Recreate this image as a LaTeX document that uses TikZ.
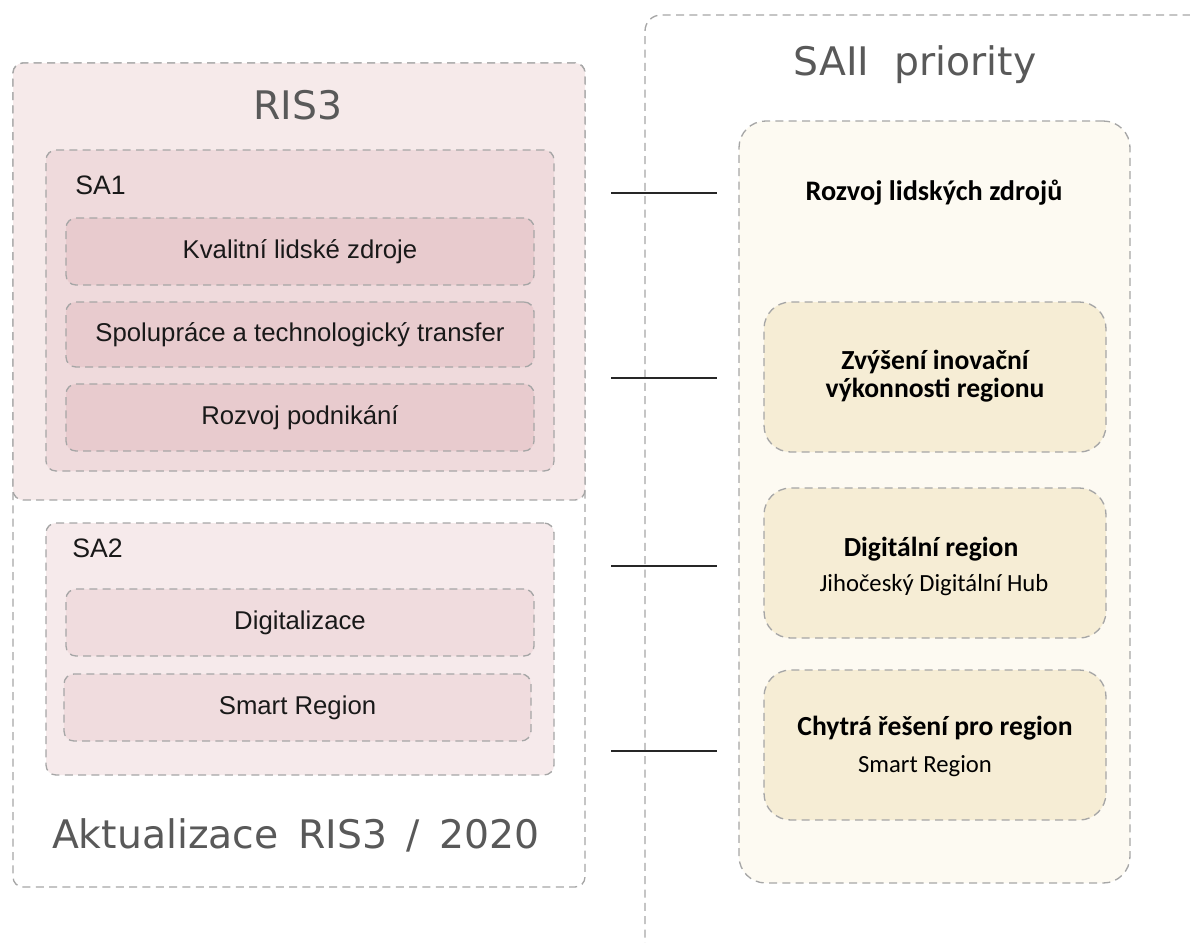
\documentclass[tikz,border=0pt]{standalone}
\usepackage{fontspec}
\setmainfont{Liberation Sans}
\newfontfamily\titlefont{DejaVu Sans}
\newfontfamily\calfont{Carlito}
\usetikzlibrary{fit}

\definecolor{dashgray}{HTML}{A6A6A6}
\definecolor{titlegray}{HTML}{595959}
\definecolor{risfill}{HTML}{F6EAEA}
\definecolor{saonefill}{HTML}{EFDADC}
\definecolor{saoneitem}{HTML}{E8CBCE}
\definecolor{satwofill}{HTML}{F6EAEB}
\definecolor{satwoitem}{HTML}{F0DCDE}
\definecolor{creamouter}{HTML}{FDFAF2}
\definecolor{creaminner}{HTML}{F6EDD5}

\newcommand\wsp{\hspace{0.5em}}

\tikzset{
  dashbox/.style={draw=dashgray, line width=1pt, dash pattern=on 6pt off 4pt},
  frame/.style={dashbox, inner sep=0pt, rounded corners=7.5pt},
  itemtext/.style={font=\fontsize{19.3}{23}\selectfont, text=black!90, inner sep=0pt},
  prio/.style={dashbox, inner sep=0pt, rounded corners=20pt, fill=creaminner},
  priohead/.style={font=\calfont\bfseries\fontsize{20.7}{24}\selectfont, text=black, inner sep=0pt},
  priosub/.style={font=\calfont\fontsize{18.5}{22}\selectfont, text=black, inner sep=0pt},
  sectitle/.style={font=\titlefont\fontsize{29.5}{34}\selectfont, text=titlegray, inner sep=0pt},
  salabel/.style={font=\fontsize{20}{24}\selectfont, anchor=west, inner sep=0pt, text=black!90},
  link/.style={draw=black!85, line width=1.1pt},
}

\begin{document}
\begin{tikzpicture}[x=0.75pt,y=-0.75pt]
\useasboundingbox (0,0) rectangle (1190,943);

% right frame: runs off the right and bottom edges
\begin{scope}
  \clip (0,0) rectangle (1190,943);
  \node[frame, rounded corners=12pt, fit={(645,15)(1260,960)}] (saiiframe) {};
\end{scope}
\node[sectitle] (saiititle) at (915,65) {SAII\ \ priority};

% left frame with the RIS3 block on top
\node[frame, fill=white, fit={(13,63)(585,887)}] (updframe) {};
\node[frame, fill=risfill, fit={(13,63)(585,500)}] (risframe) {};
\node[sectitle] (ristitle) at (298,105) {RIS3};

\node[frame, fill=saonefill, fit={(46,150)(554,471)}] (saone) {};
\node[salabel] (saonelabel) at (75,185) {SA1};
\node[frame, fill=saoneitem, fit={(66,218)(534,285)}] (kval) {};
\node[frame, fill=saoneitem, fit={(66,302)(534,367)}] (spol) {};
\node[frame, fill=saoneitem, fit={(66,384)(534,451)}] (podn) {};
\node[itemtext] (kvaltext) at (kval.center) {Kvalitní lidské zdroje};
\node[itemtext] (spoltext) at (spol.center) {Spolupráce a technologický transfer};
\node[itemtext] (podntext) at (podn.center) {Rozvoj podnikání};

\node[frame, fill=satwofill, fit={(46,523)(554,775)}] (satwo) {};
\node[salabel] (satwolabel) at (72,548) {SA2};
\node[frame, fill=satwoitem, fit={(66,589)(534,656)}] (digi) {};
\node[frame, fill=satwoitem, fit={(64,674)(531,741)}] (smart) {};
\node[itemtext] (digitext) at (digi.center) {Digitalizace};
\node[itemtext] (smarttext) at (smart.center) {Smart Region};

\node[sectitle] (updtitle) at (296,835) {Aktualizace\wsp RIS3\wsp /\wsp 2020};

% SAII priorities
\node[dashbox, inner sep=0pt, rounded corners=20pt, fill=creamouter, fit={(739,121)(1130,883)}] (prioframe) {};
\node[priohead, font=\calfont\bfseries\fontsize{21.2}{24}\selectfont] (lidske) at (934,193) {Rozvoj lidských zdrojů};

\node[prio, fit={(764,302)(1106,452)}] (inov) {};
\node[priohead] (inovone) at (935,362) {Zvýšení inovační};
\node[priohead] (inovtwo) at (935,390) {výkonnosti regionu};

\node[prio, fit={(764,488)(1106,638)}] (digreg) {};
\node[priohead] (digregone) at (931,549) {Digitální region};
\node[priosub] (digregtwo) at (934,585) {Jihočeský Digitální Hub};

\node[prio, fit={(764,670)(1106,820)}] (chytra) {};
\node[priohead] (chytraone) at (935,728) {Chytrá řešení pro region};
\node[priosub] (chytratwo) at (925,766) {Smart Region};

% connectors between the two columns
\foreach \n/\yy in {a/193, b/378, c/566, d/751}{
  \coordinate (l\n) at (611,\yy);
  \coordinate (r\n) at (717,\yy);
}
\draw[link] (la) -- (ra);
\draw[link] (lb) -- (rb);
\draw[link] (lc) -- (rc);
\draw[link] (ld) -- (rd);
\end{tikzpicture}
\end{document}
